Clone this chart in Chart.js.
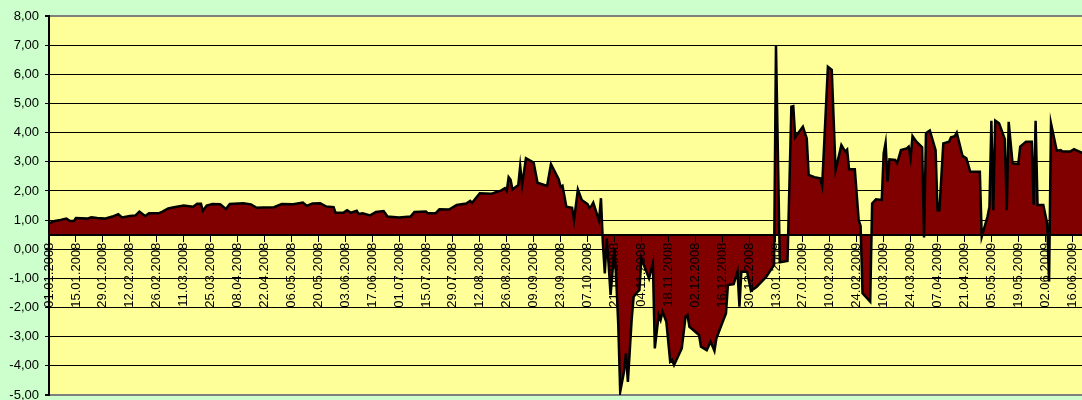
<!DOCTYPE html>
<html>
<head>
<meta charset="utf-8">
<script src="https://cdn.jsdelivr.net/npm/chart.js"></script>
<style>
    html, body { margin: 0; padding: 0; background: #ccffcc; overflow: hidden; }
    #wrap { width: 1126px; height: 400px; }
</style>
</head>
<body>
<div id="wrap"><canvas id="spreadChart"></canvas></div>
<script>
// --- data ---
const startDate = '01.01.2008';   // day 0 of the x axis
const dayOffsets = [
    0, 3, 6, 9, 11, 13, 14, 20, 22, 25, 29, 33, 36, 38, 42, 45, 47, 50, 52, 57,
    59, 62, 65, 70, 75, 77, 79, 80, 82, 85, 89, 92, 94, 101, 105, 108, 111, 117, 121, 127,
    132, 134, 137, 141, 144, 148, 149, 153, 155, 157, 160, 161, 163, 167, 170, 174, 176, 182, 188, 190,
    196, 197, 201, 203, 208, 212, 217, 219, 220, 224, 230, 232, 235, 237, 238, 239, 240, 241, 244, 245,
    246, 248, 252, 254, 259, 261, 265, 266, 267, 269, 272, 273, 275, 277, 280, 281, 282, 283, 286, 287,
    288, 289, 290, 291, 292, 294, 295, 296, 297, 299, 300, 301, 303, 304, 306, 307, 308, 310, 312, 314,
    315, 317, 318, 319, 321, 323, 324, 325, 327, 329, 331, 332, 333, 335, 338, 339, 342, 344, 346, 347,
    350, 352, 353, 356, 358, 359, 360, 363, 365, 368, 373, 377, 378, 380, 384, 386, 387, 388, 392, 394,
    395, 398, 401, 402, 405, 407, 409, 412, 414, 415, 416, 419, 421, 422, 423, 427, 428, 430, 433, 434,
    435, 436, 437, 440, 441, 443, 446, 447, 448, 449, 451, 454, 455, 456, 458, 461, 462, 463, 465, 468,
    469, 471, 472, 475, 477, 479, 484, 485, 488, 489, 490, 491, 492, 494, 497, 498, 499, 501, 504, 505,
    508, 511, 512, 513, 514, 517, 519, 520, 521, 524, 526, 527, 531, 533, 534, 537, 541
];
const values = [
    0.89, 0.97, 1.00, 1.05, 0.97, 0.97, 1.07, 1.05, 1.10, 1.07, 1.05, 1.12, 1.20, 1.09, 1.14, 1.16, 1.29, 1.14, 1.23, 1.23,
    1.29, 1.40, 1.44, 1.50, 1.46, 1.56, 1.56, 1.32, 1.50, 1.55, 1.54, 1.38, 1.55, 1.58, 1.54, 1.42, 1.43, 1.44, 1.55, 1.54,
    1.60, 1.49, 1.57, 1.58, 1.47, 1.44, 1.25, 1.25, 1.34, 1.25, 1.32, 1.21, 1.23, 1.16, 1.28, 1.31, 1.12, 1.09, 1.12, 1.28,
    1.29, 1.23, 1.23, 1.37, 1.36, 1.52, 1.57, 1.66, 1.59, 1.92, 1.90, 1.95, 2.01, 2.09, 1.99, 2.47, 2.38, 2.05, 2.20, 2.85,
    2.20, 3.12, 2.97, 2.28, 2.17, 2.92, 2.40, 2.14, 2.18, 1.46, 1.42, 1.00, 2.05, 1.69, 1.55, 1.42, 1.48, 1.60, 0.98, 1.75,
    0.20, -0.83, 0.37, -0.54, -1.57, 0.03, -1.11, -2.60, -4.89, -4.20, -3.57, -4.55, -2.37, -1.63, -1.46, -1.40, -0.31, -0.66, -1.00, -0.48,
    -3.40, -2.26, -2.43, -2.14, -2.49, -3.86, -3.80, -3.97, -3.69, -3.40, -2.31, -2.26, -2.66, -2.77, -2.94, -3.34, -3.46, -3.17, -3.49, -3.06,
    -2.54, -2.20, -1.23, -1.20, -0.77, -1.97, -0.77, -0.77, -1.43, -1.29, -0.94, -0.54, 7.00, -0.45, -0.40, 4.89, 4.91, 3.84, 4.20, 3.80,
    2.55, 2.47, 2.43, 2.17, 6.26, 6.15, 2.72, 3.57, 3.35, 3.42, 2.74, 2.74, 1.00, 0.80, -1.51, -1.80, 1.57, 1.71, 1.69, 3.29,
    3.65, 2.32, 3.08, 3.06, 2.95, 3.40, 3.46, 3.52, 3.12, 3.88, 3.69, 3.50, 0.40, 3.98, 4.07, 3.40, 1.34, 1.34, 3.63, 3.69,
    3.84, 3.88, 4.00, 3.20, 3.12, 2.66, 2.66, 0.43, 1.12, 1.46, 4.41, 1.34, 4.41, 4.32, 3.77, 1.34, 4.37, 2.95, 2.92, 3.52,
    3.69, 3.69, 1.52, 4.41, 1.52, 1.52, 0.89, -1.11, 4.32, 3.38, 3.40, 3.35, 3.35, 3.43, 3.40, 3.31, 3.30
];
const yMin = -5, yMax = 8, yStep = 1;
const labelStepDays = 14;
const lastDay = 560;
const baseLine = 0.5;   // category axis crosses here

// day offset -> "dd.mm.yyyy"
const [sd, sm, sy] = startDate.split('.').map(Number);
const baseTime = Date.UTC(sy, sm - 1, sd);
function dayToLabel(d) {
    const t = new Date(baseTime + d * 86400000);
    const dd = String(t.getUTCDate()).padStart(2, '0');
    const mm = String(t.getUTCMonth() + 1).padStart(2, '0');
    return dd + '.' + mm + '.' + t.getUTCFullYear();
}

const plotBackground = {
    id: 'plotBackground',
    beforeDraw(chart) {
        const { ctx, chartArea: a } = chart;
        ctx.save();
        ctx.fillStyle = '#ffff99';
        ctx.fillRect(a.left, a.top, a.right - a.left, a.bottom - a.top);
        ctx.restore();
    }
};

const fontFamily = 'Arial, "Liberation Sans", sans-serif';

new Chart(document.getElementById('spreadChart'), {
    type: 'line',
    data: {
        datasets: [{
            data: dayOffsets.map((d, i) => ({ x: d, y: values[i] })),
            borderColor: '#000000',
            borderWidth: 2.5,
            backgroundColor: '#800000',
            fill: { value: baseLine },
            pointRadius: 0,
            tension: 0
        }]
    },
    options: {
        responsive: true,
        maintainAspectRatio: false,
        animation: false,
        layout: { padding: { top: 16, right: 0, bottom: 5, left: 0 } },
        plugins: { legend: { display: false }, tooltip: { enabled: false } },
        scales: {
            x: {
                type: 'linear',
                position: { y: baseLine },
                min: 0,
                max: lastDay,
                afterFit(s) { s.height = 0; s.paddingLeft = 0; s.paddingRight = 0; },
                grid: { drawOnChartArea: false, tickLength: 6, tickColor: '#000', tickWidth: 1, z: 1 },
                border: { color: '#000', width: 2, z: 1 },
                ticks: {
                    stepSize: labelStepDays,
                    autoSkip: false,
                    minRotation: 90,
                    maxRotation: 90,
                    padding: 2,
                    color: '#000',
                    z: 1,
                    font: { family: fontFamily, size: 13 },
                    callback: v => dayToLabel(v)
                }
            },
            y: {
                min: yMin,
                max: yMax,
                afterFit(s) { s.width = 49; s.paddingTop = 0; s.paddingBottom = 0; },
                grid: {
                    color: c => (c.tick && (c.tick.value === yMax || c.tick.value === yMin)) ? '#808080' : '#000',
                    lineWidth: c => (c.tick && (c.tick.value === yMax || c.tick.value === yMin)) ? 2 : 1,
                    tickLength: 4,
                    tickColor: '#000'
                },
                border: { color: '#000', width: 2, z: 1 },
                ticks: {
                    stepSize: yStep,
                    padding: 6,
                    color: '#000',
                    font: { family: fontFamily, size: 13 },
                    callback: v => v.toFixed(2).replace('.', ',')
                }
            }
        }
    },
    plugins: [plotBackground]
});
</script>
</body>
</html>
